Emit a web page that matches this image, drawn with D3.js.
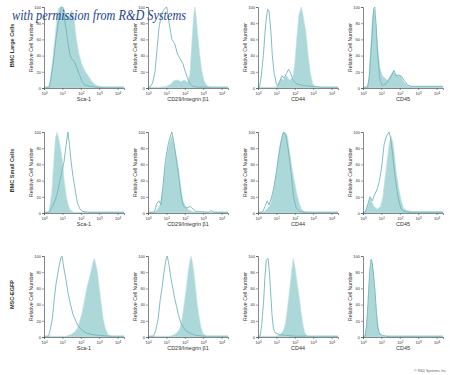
<!DOCTYPE html>
<html><head><meta charset="utf-8">
<script src="https://cdn.jsdelivr.net/npm/d3@7"></script>
<style>body{margin:0;background:#fff;}svg{display:block;}</style>
</head><body>
<script>
// ---- data (x in log10 decades, y in relative %) ----
const rowLabels = ["BMC Large Cells", "BMC Small Cells", "MSC-EGFP"];
const markers = ["Sca-1", "CD29/Integrin \u03b21", "CD44", "CD45"];
const yTicks = [0, 20, 40, 60, 80, 100];
const xTicks = [0, 1, 2, 3, 4];
const yTitle = "Relative Cell Number";

// Row 1: BMC Large Cells
const largeSca1Filled = [[0,1],[0.25,1],[0.32,8],[0.5,40],[0.65,75],[0.78,98],[0.9,100],[1.05,100],[1.2,90],[1.35,88],[1.5,96],[1.62,90],[1.75,62],[1.9,42],[2.05,30],[2.2,22],[2.4,15],[2.6,8],[2.8,4],[3.0,2],[3.3,1],[4.35,1]];
const largeSca1Open = [[0,1],[0.28,1],[0.35,8],[0.5,30],[0.65,60],[0.8,85],[0.95,100],[1.05,98],[1.15,80],[1.28,60],[1.4,42],[1.5,36],[1.65,33],[1.78,25],[1.9,18],[2.05,9],[2.2,4],[2.5,2],[2.8,1],[4.35,1]];
const largeCD29Filled = [[0,1],[0.6,1],[1.0,2],[1.25,5],[1.4,9],[1.6,10],[1.8,8],[2.0,10],[2.15,7],[2.28,18],[2.38,55],[2.48,90],[2.55,100],[2.62,88],[2.72,62],[2.82,40],[2.92,22],[3.05,9],[3.2,3],[3.4,1],[4.35,1]];
const largeCD29Open = [[0,1],[0.1,1],[0.25,6],[0.38,20],[0.5,50],[0.6,75],[0.75,92],[0.9,98],[1.02,100],[1.15,80],[1.3,60],[1.45,55],[1.6,42],[1.75,36],[1.9,30],[2.0,22],[2.15,12],[2.3,5],[2.45,2],[2.7,1],[4.35,1]];
const largeCD44Filled = [[0,1],[0.95,1],[1.1,5],[1.25,12],[1.38,10],[1.55,15],[1.7,10],[1.88,12],[2.0,30],[2.1,60],[2.22,90],[2.35,100],[2.45,90],[2.6,70],[2.72,42],[2.85,18],[2.98,5],[3.1,2],[3.3,1],[4.35,1]];
const largeCD44Open = [[0,1],[0.08,1],[0.18,15],[0.29,40],[0.42,80],[0.52,97],[0.6,95],[0.7,70],[0.78,40],[0.88,18],[1.0,5],[1.08,3],[1.18,8],[1.3,15],[1.42,12],[1.55,18],[1.66,23],[1.78,18],[1.9,10],[2.1,5],[2.5,3],[3.0,2],[3.5,1],[4.35,1]];
const largeCD45Filled = [[0,1],[0.2,1],[0.3,8],[0.4,45],[0.52,90],[0.62,96],[0.72,72],[0.82,48],[0.92,25],[1.05,15],[1.2,12],[1.35,10],[1.5,16],[1.62,20],[1.75,18],[1.9,15],[2.05,15],[2.2,8],[2.4,3],[2.6,2],[4.35,2]];
const largeCD45Open = [[0,1],[0.25,1],[0.35,15],[0.48,60],[0.58,98],[0.64,100],[0.72,75],[0.8,40],[0.92,10],[1.05,3],[1.25,5],[1.4,10],[1.55,15],[1.68,22],[1.8,15],[1.95,16],[2.1,14],[2.25,9],[2.42,4],[2.6,2],[4.35,2]];

// Row 2: BMC Small Cells
const smallSca1Filled = [[0,1],[0.25,1],[0.32,10],[0.42,25],[0.52,60],[0.62,92],[0.7,100],[0.8,92],[0.9,80],[1.0,65],[1.1,40],[1.22,20],[1.32,10],[1.42,4],[1.6,1],[4.35,1]];
const smallSca1Open = [[0,1],[0.3,1],[0.4,6],[0.55,12],[0.7,22],[0.85,38],[0.98,52],[1.08,62],[1.18,80],[1.3,100],[1.38,85],[1.48,62],[1.58,45],[1.7,28],[1.82,12],[1.95,5],[2.1,2],[2.4,1],[4.35,1]];
const smallCD29Filled = [[0,1],[0.35,1],[0.5,4],[0.66,10],[0.8,30],[0.92,55],[1.05,75],[1.18,88],[1.3,95],[1.42,85],[1.55,68],[1.65,55],[1.78,32],[1.9,15],[2.05,8],[2.2,4],[2.4,2],[2.7,1],[4.35,1]];
const smallCD29Open = [[0,1],[0.35,1],[0.48,12],[0.6,15],[0.7,10],[0.82,35],[0.95,65],[1.1,85],[1.22,95],[1.3,100],[1.4,88],[1.52,70],[1.65,50],[1.78,25],[1.9,10],[2.05,6],[2.3,8],[2.45,5],[2.6,2],[3.3,1],[3.45,3],[3.6,1],[4.35,1]];
const smallCD44Filled = [[0,1],[0.28,1],[0.45,4],[0.67,10],[0.82,25],[0.95,42],[1.08,65],[1.2,85],[1.35,98],[1.48,100],[1.6,95],[1.72,75],[1.85,55],[1.98,40],[2.1,25],[2.22,14],[2.35,5],[2.5,2],[2.7,1],[4.35,1]];
const smallCD44Open = [[0,1],[0.25,1],[0.38,8],[0.5,15],[0.6,10],[0.72,18],[0.85,30],[1.0,50],[1.12,70],[1.25,88],[1.38,100],[1.5,96],[1.62,82],[1.76,58],[1.86,35],[1.95,18],[2.08,6],[2.25,2],[2.5,1],[4.35,1]];
const smallCD45Filled = [[0,1],[0.12,1],[0.25,8],[0.38,18],[0.48,14],[0.6,8],[0.78,5],[0.95,8],[1.08,20],[1.18,40],[1.3,62],[1.42,85],[1.52,95],[1.62,88],[1.72,70],[1.82,48],[1.95,30],[2.08,15],[2.2,6],[2.4,3],[2.7,2],[4.35,2]];
const smallCD45Open = [[0,1],[0.12,1],[0.25,10],[0.38,20],[0.5,15],[0.62,22],[0.78,30],[0.9,40],[1.02,58],[1.15,85],[1.28,95],[1.42,100],[1.5,92],[1.6,75],[1.72,50],[1.82,32],[1.92,18],[2.05,6],[2.2,2],[2.5,1],[4.35,1]];

// Row 3: MSC-EGFP
const mscSca1Filled = [[0,1],[1.2,1],[1.45,3],[1.65,6],[1.8,10],[1.95,20],[2.07,30],[2.2,45],[2.34,62],[2.46,72],[2.56,82],[2.66,92],[2.74,97],[2.82,90],[2.92,78],[3.02,58],[3.12,40],[3.22,22],[3.32,12],[3.47,3],[3.7,1],[4.35,1]];
const mscSca1Open = [[0,1],[0.25,1],[0.33,8],[0.45,22],[0.55,45],[0.65,65],[0.8,85],[0.92,98],[0.98,100],[1.08,85],[1.2,70],[1.3,55],[1.44,40],[1.58,28],[1.72,20],[1.85,14],[2.0,10],[2.15,7],[2.3,5],[2.6,3],[3.0,2],[3.5,1],[4.35,1]];
const mscCD29Filled = [[0,1],[1.2,1],[1.44,3],[1.6,6],[1.72,10],[1.85,22],[1.95,38],[2.08,60],[2.18,80],[2.26,92],[2.35,100],[2.42,92],[2.5,78],[2.6,58],[2.68,40],[2.78,25],[2.88,12],[3.0,4],[3.2,1],[4.35,1]];
const mscCD29Open = [[0,1],[0.3,1],[0.42,8],[0.55,22],[0.66,45],[0.77,62],[0.9,85],[1.0,98],[1.05,100],[1.15,88],[1.25,72],[1.35,60],[1.45,48],[1.55,38],[1.65,28],[1.78,18],[1.92,12],[2.05,8],[2.26,5],[2.6,2],[3.0,1],[4.35,1]];
const mscCD44Filled = [[0,1],[0.9,1],[1.1,2],[1.25,4],[1.38,8],[1.48,15],[1.56,28],[1.65,45],[1.74,62],[1.83,82],[1.92,97],[2.0,88],[2.08,75],[2.16,62],[2.25,48],[2.35,30],[2.45,15],[2.55,5],[2.7,1],[4.35,1]];
const mscCD44Open = [[0,1],[0.12,1],[0.2,15],[0.3,42],[0.38,75],[0.45,95],[0.55,97],[0.62,80],[0.69,55],[0.76,28],[0.84,10],[0.95,5],[1.15,3],[1.5,2],[2.0,1],[4.35,1]];
const mscCD45Filled = [[0,1],[0.1,1],[0.18,12],[0.26,35],[0.33,62],[0.4,85],[0.47,95],[0.54,85],[0.62,65],[0.7,40],[0.78,20],[0.88,6],[1.0,2],[1.2,1],[4.35,1]];
const mscCD45Open = [[0,1],[0.12,1],[0.2,15],[0.28,45],[0.36,80],[0.44,96],[0.5,92],[0.58,75],[0.66,55],[0.73,30],[0.8,12],[0.9,4],[1.05,2],[1.3,1],[4.35,1]];

const panels = [
  [largeSca1Filled, largeSca1Open], [largeCD29Filled, largeCD29Open], [largeCD44Filled, largeCD44Open], [largeCD45Filled, largeCD45Open],
  [smallSca1Filled, smallSca1Open], [smallCD29Filled, smallCD29Open], [smallCD44Filled, smallCD44Open], [smallCD45Filled, smallCD45Open],
  [mscSca1Filled, mscSca1Open], [mscCD29Filled, mscCD29Open], [mscCD44Filled, mscCD44Open], [mscCD45Filled, mscCD45Open]
];

// ---- layout ----
const W = 450, H = 375;
const colX = [44, 148, 258, 363];
const rowTop = [7, 132, 256];
const pw = 80, ph = 81;
const fillColor = "#acd8d9";
const lineColor = "#74b6b9";
const axisColor = "#555";
const textColor = "#333";

const svg = d3.select("body").append("svg").attr("width", W).attr("height", H);

const x = d3.scaleLinear().domain([0, 4.35]).range([0, pw]);
const y = d3.scaleLinear().domain([0, 100]).range([ph, 0]);
const area = d3.area().x(d => x(d[0])).y0(y(0)).y1(d => y(d[1]));
const line = d3.line().x(d => x(d[0])).y(d => y(d[1]));

panels.forEach((p, i) => {
  const r = Math.floor(i / 4), c = i % 4;
  const g = svg.append("g").attr("transform", `translate(${colX[c]},${rowTop[r]})`);
  g.append("path").attr("d", area(p[0])).attr("fill", fillColor).attr("stroke", "#c4e3e4").attr("stroke-width", 0.6);
  g.append("path").attr("d", line(p[1])).attr("fill", "none").attr("stroke", lineColor).attr("stroke-width", 0.9);

  // axes
  const ya = g.append("g").call(d3.axisLeft(y).tickValues(yTicks).tickSize(2).tickPadding(1).tickFormat(d3.format("d")));
  const xa = g.append("g").attr("transform", `translate(0,${ph})`).call(d3.axisBottom(x).tickValues(xTicks).tickSize(2).tickPadding(1).tickFormat(""));
  [ya, xa].forEach(a => {
    a.select(".domain").attr("stroke", axisColor).attr("stroke-width", 0.7);
    a.selectAll(".tick line").attr("stroke", axisColor).attr("stroke-width", 0.6);
  });
  ya.selectAll("text").attr("font-size", 4).attr("font-family", "Liberation Sans, Arial, sans-serif").attr("fill", textColor);
  // x tick labels as 10^n
  xa.selectAll(".tick").each(function(d) {
    const t = d3.select(this).append("text").attr("y", 7).attr("text-anchor", "middle")
      .attr("font-size", 4).attr("font-family", "Liberation Sans, Arial, sans-serif").attr("fill", textColor);
    t.append("tspan").text("10");
    t.append("tspan").attr("dy", -1.5).attr("font-size", 3).text(d);
  });

  // x axis title
  g.append("text").attr("x", pw / 2).attr("y", ph + 13).attr("text-anchor", "middle")
    .attr("font-size", 5.5).attr("font-family", "Liberation Sans Narrow, Liberation Sans, sans-serif").attr("fill", textColor)
    .text(markers[c]);
  // y axis title
  g.append("text").attr("transform", `translate(-11,${ph / 2}) rotate(-90)`).attr("text-anchor", "middle")
    .attr("font-size", 5.2).attr("font-family", "Liberation Sans Narrow, Liberation Sans, sans-serif").attr("fill", textColor)
    .text(yTitle);
});

// row labels
rowLabels.forEach((lab, r) => {
  svg.append("text").attr("transform", `translate(14,${rowTop[r] + ph / 2 - 2}) rotate(-90)`).attr("text-anchor", "middle")
    .attr("font-size", 5.5).attr("font-weight", "bold").attr("font-family", "Liberation Sans Narrow, Liberation Sans, sans-serif").attr("fill", textColor)
    .text(lab);
});

// watermark
svg.append("text").attr("x", 12).attr("y", 20)
  .attr("font-size", 15).attr("font-style", "italic").attr("font-family", "Liberation Serif, DejaVu Serif, serif")
  .attr("fill", "#1f3f8f").attr("textLength", 174).attr("lengthAdjust", "spacingAndGlyphs")
  .text("with permission from R&D Systems");

// copyright
svg.append("text").attr("x", 447).attr("y", 372).attr("text-anchor", "end")
  .attr("font-size", 3.5).attr("font-family", "Liberation Sans, sans-serif").attr("fill", "#666")
  .text("\u00a9 R&D Systems, Inc.");
</script>
</body></html>
